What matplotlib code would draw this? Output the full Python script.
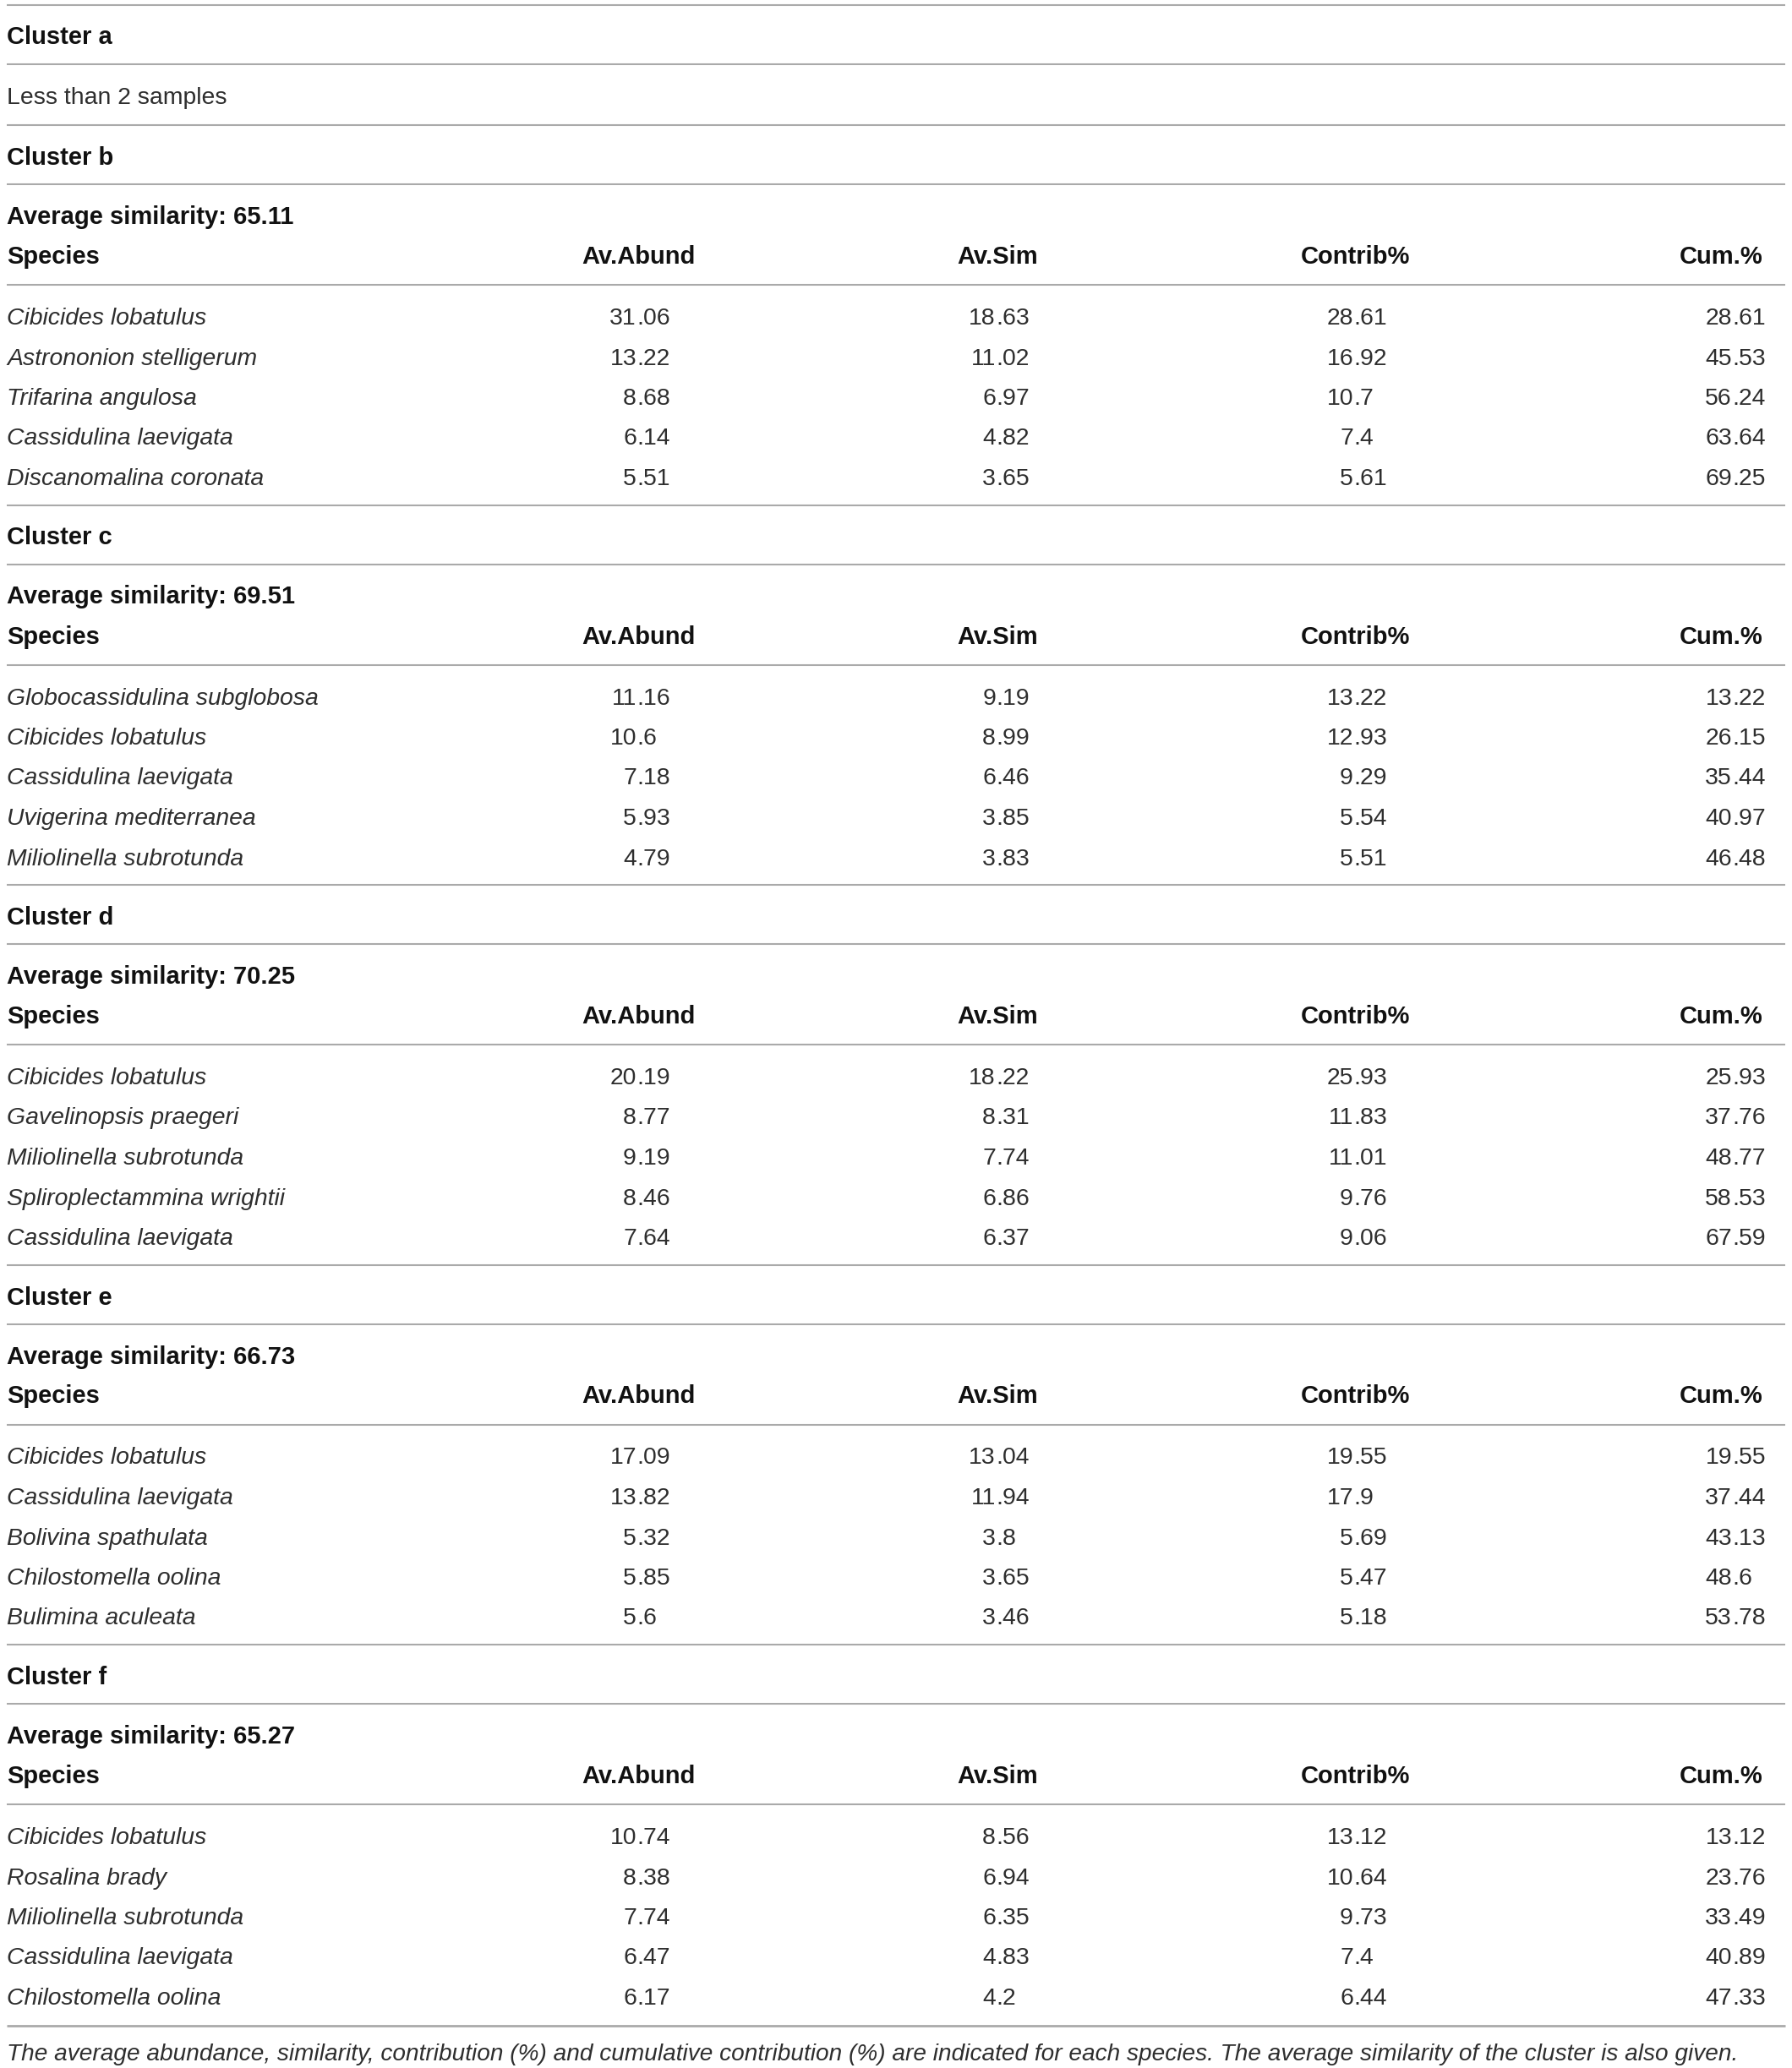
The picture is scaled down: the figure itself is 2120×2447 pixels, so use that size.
import matplotlib
matplotlib.use('Agg')
import matplotlib.pyplot as plt

plt.rcParams.update({
    'font.family': 'Liberation Sans',
    'figure.dpi': 100,
})

# SIMPER results per cluster
cluster_names = ['Cluster b', 'Cluster c', 'Cluster d', 'Cluster e', 'Cluster f']
avg_similarity = [65.11, 69.51, 70.25, 66.73, 65.27]
col_headers = ['Species', 'Av.Abund', 'Av.Sim', 'Contrib%', 'Cum.%']

species_b = ['Cibicides lobatulus', 'Astrononion stelligerum', 'Trifarina angulosa',
             'Cassidulina laevigata', 'Discanomalina coronata']
abund_b = [31.06, 13.22, 8.68, 6.14, 5.51]
sim_b = [18.63, 11.02, 6.97, 4.82, 3.65]
contrib_b = [28.61, 16.92, 10.7, 7.4, 5.61]
cum_b = [28.61, 45.53, 56.24, 63.64, 69.25]

species_c = ['Globocassidulina subglobosa', 'Cibicides lobatulus', 'Cassidulina laevigata',
             'Uvigerina mediterranea', 'Miliolinella subrotunda']
abund_c = [11.16, 10.6, 7.18, 5.93, 4.79]
sim_c = [9.19, 8.99, 6.46, 3.85, 3.83]
contrib_c = [13.22, 12.93, 9.29, 5.54, 5.51]
cum_c = [13.22, 26.15, 35.44, 40.97, 46.48]

species_d = ['Cibicides lobatulus', 'Gavelinopsis praegeri', 'Miliolinella subrotunda',
             'Spliroplectammina wrightii', 'Cassidulina laevigata']
abund_d = [20.19, 8.77, 9.19, 8.46, 7.64]
sim_d = [18.22, 8.31, 7.74, 6.86, 6.37]
contrib_d = [25.93, 11.83, 11.01, 9.76, 9.06]
cum_d = [25.93, 37.76, 48.77, 58.53, 67.59]

species_e = ['Cibicides lobatulus', 'Cassidulina laevigata', 'Bolivina spathulata',
             'Chilostomella oolina', 'Bulimina aculeata']
abund_e = [17.09, 13.82, 5.32, 5.85, 5.6]
sim_e = [13.04, 11.94, 3.8, 3.65, 3.46]
contrib_e = [19.55, 17.9, 5.69, 5.47, 5.18]
cum_e = [19.55, 37.44, 43.13, 48.6, 53.78]

species_f = ['Cibicides lobatulus', 'Rosalina brady', 'Miliolinella subrotunda',
             'Cassidulina laevigata', 'Chilostomella oolina']
abund_f = [10.74, 8.38, 7.74, 6.47, 6.17]
sim_f = [8.56, 6.94, 6.35, 4.83, 4.2]
contrib_f = [13.12, 10.64, 9.73, 7.4, 6.44]
cum_f = [13.12, 23.76, 33.49, 40.89, 47.33]

caption = ('The average abundance, similarity, contribution (%) and cumulative contribution (%) '
           'are indicated for each species. The average similarity of the cluster is also given.')

tables = [
    (species_b, abund_b, sim_b, contrib_b, cum_b),
    (species_c, abund_c, sim_c, contrib_c, cum_c),
    (species_d, abund_d, sim_d, contrib_d, cum_d),
    (species_e, abund_e, sim_e, contrib_e, cum_e),
    (species_f, abund_f, sim_f, contrib_f, cum_f),
]

W, H = 2120, 2447
fig = plt.figure(figsize=(W / 100, H / 100))
ax = fig.add_axes([0, 0, 1, 1])
ax.set_xlim(0, W)
ax.set_ylim(H, 0)
ax.axis('off')

LINE = '#aaaaaa'
TXT = '#2e2e2e'
X0, X1 = 8, 2112
dec_x = [753, 1178, 1601, 2049]   # decimal points of numeric columns
FS = 20.4
FSB = 21
BASE = 11  # baseline offset from visual centre


def hline(y, lw=1.5):
    ax.plot([X0, X1], [y, y], color=LINE, lw=lw, solid_capstyle='butt')


def bold(x, y, s, ha='left'):
    ax.text(x, y + BASE, s, ha=ha, va='baseline', fontsize=FSB, fontweight='bold', color='#111111')


def num(x, y, v):
    s = str(v)
    ip, fp = s.split('.')
    ax.text(x, y + BASE, ip, ha='right', va='baseline', fontsize=FS, color=TXT)
    ax.text(x, y + BASE, '.' + fp, ha='left', va='baseline', fontsize=FS, color=TXT)


# Cluster a
hline(6)
bold(X0, 41, 'Cluster a')
hline(76)
ax.text(X0, 112 + BASE, 'Less than 2 samples', ha='left', va='baseline',
        fontsize=FS, color=TXT)

T = 184
for name, avg, (sp, ab, si, co, cu) in zip(cluster_names, avg_similarity, tables):
    hline(T - 36)
    bold(X0, T, name)
    hline(T + 34)
    bold(X0, T + 70, f'Average similarity: {avg:.2f}')
    bold(X0, T + 117, col_headers[0])
    for hx, h in zip(dec_x[:3], col_headers[1:4]):
        bold(hx + 2, T + 117, h, ha='center')
    bold(2086, T + 117, col_headers[4], ha='right')
    hline(T + 153)
    for i in range(len(sp)):
        y = T + 189 + 47.5 * i
        ax.text(X0, y + BASE, sp[i], ha='left', va='baseline', fontsize=FS,
                style='italic', color=TXT)
        for xc, vals in zip(dec_x, (ab, si, co, cu)):
            num(xc, y, vals[i])
    T += 449.5

hline(2397, lw=2)
ax.text(X0, 2427 + BASE, caption, ha='left', va='baseline', fontsize=20.15,
        style='italic', color=TXT)

plt.savefig('out.png', dpi=100)
plt.close()
